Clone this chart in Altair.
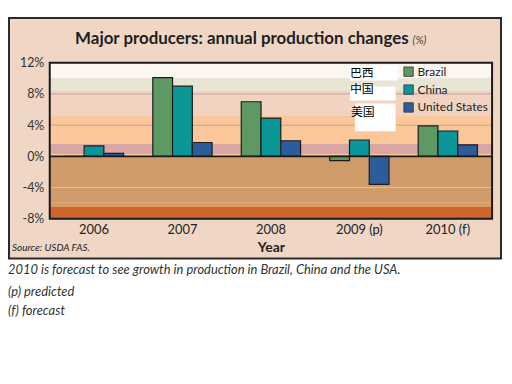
import altair as alt
import pandas as pd

years = ["2006", "2007", "2008", "2009 (p)", "2010 (f)"]
countries = ["Brazil", "China", "United States"]
brazil = [0.0, 10.1, 7.0, -0.55, 3.9]
china = [1.35, 9.0, 4.9, 2.1, 3.25]
usa = [0.38, 1.78, 2.0, -3.6, 1.48]
colors = ["#5e9862", "#0b9797", "#2d5c9b"]

band_lo = [10.0, 8.4, 5.2, 0.0, 0.3, -5.9, -6.5, -8.0]
band_hi = [12.0, 10.0, 8.4, 5.2, 1.6, 0.0, -5.9, -6.5]
band_col = ["#fbf7f0", "#e9e5d5", "#f2d3c1", "#fcc89b", "#d9a6a3", "#cf9b6b", "#dd9c5f", "#d0662f"]

grid_vals = [8, 4, -4]
grid_col = ["#b8a49c", "#c3a08c", "#f2bb90"]

y_ticks = [-8, -4, 0, 4, 8, 12]

rows = []
for i, yr in enumerate(years):
    for c, vals in zip(countries, [brazil, china, usa]):
        rows.append({"year": yr, "country": c, "value": vals[i]})
df = pd.DataFrame(rows)

bands = pd.DataFrame({"lo": band_lo, "hi": band_hi, "col": band_col})
grids = pd.DataFrame({"v": grid_vals, "col": grid_col})

W, H = 445, 157
yscale = alt.Scale(domain=[-8, 12], nice=False, zero=False)
xscale = alt.Scale(domain=years, paddingInner=0.33, paddingOuter=0.165)
y_axis = alt.Axis(values=y_ticks, labelExpr="datum.value + '%'", title=None,
                  domain=False, ticks=False, grid=False, labelFontSize=12.5,
                  labelColor="#333", labelFont="Lato", labelPadding=6, zindex=1)

one = pd.DataFrame({"a": [0]})

panel = alt.Chart(one).mark_rect(
    fill="#efd6c5", stroke="#2a2a2a", strokeWidth=2
).encode(x=alt.value(-41), x2=alt.value(454), y=alt.value(-45), y2=alt.value(197))

band_layer = alt.Chart(bands).mark_rect().encode(
    y=alt.Y("lo:Q", scale=yscale, axis=y_axis),
    y2="hi:Q",
    x=alt.value(0), x2=alt.value(W),
    color=alt.Color("col:N", scale=None),
)

grid_layer = alt.Chart(grids).mark_rule(strokeWidth=1).encode(
    y=alt.Y("v:Q", scale=yscale, axis=y_axis),
    x=alt.value(0), x2=alt.value(W),
    color=alt.Color("col:N", scale=None),
)

bars = alt.Chart(df).mark_bar(stroke="#1c1c1c", strokeWidth=1.2).encode(
    x=alt.X("year:N", scale=xscale, sort=years,
            axis=alt.Axis(title="Year", labelAngle=0, domain=False, ticks=False,
                          labelFontSize=13, labelColor="#222", labelFont="Lato",
                          labelPadding=5, titleFont="Lato", titleFontSize=14,
                          titleFontWeight="bold", titleColor="#222", titlePadding=4,
                          zindex=1)),
    xOffset=alt.XOffset("country:N", sort=countries,
                        scale=alt.Scale(paddingInner=0, paddingOuter=0)),
    y=alt.Y("value:Q", scale=yscale, axis=y_axis),
    color=alt.Color("country:N", sort=countries,
                    scale=alt.Scale(domain=countries, range=colors),
                    legend=alt.Legend(title=None, orient="none", legendX=355, legendY=3,
                                      symbolType="square", symbolSize=90,
                                      symbolStrokeColor="#333", symbolStrokeWidth=0.8,
                                      labelFont="Lato", labelFontSize=12, labelColor="#222",
                                      labelOffset=3, rowPadding=4, symbolOpacity=1)),
)

zero = alt.Chart(pd.DataFrame({"z": [0]})).mark_rule(color="#1a1a1a", strokeWidth=1.6).encode(
    y=alt.Y("z:Q", scale=yscale, axis=y_axis), x=alt.value(0), x2=alt.value(W)
)

border = alt.Chart(one).mark_rect(
    fill=None, stroke="#1a1a1a", strokeWidth=2
).encode(x=alt.value(0), x2=alt.value(W), y=alt.value(0), y2=alt.value(H))

# white overlay boxes with Chinese labels
box_x = [302, 302, 307]
box_x2 = [350, 348, 348]
box_y = [3, 24, 41]
box_y2 = [18, 38, 69]
zh_labels = ["巴西", "中国", "美国"]
zh_x = [314, 314, 315]
zh_y = [10.5, 26, 49.5]

box_layers = [
    alt.Chart(one).mark_rect(fill="white").encode(
        x=alt.value(a), x2=alt.value(b), y=alt.value(c), y2=alt.value(d))
    for a, b, c, d in zip(box_x, box_x2, box_y, box_y2)
]
zh_layers = [
    alt.Chart(one).mark_text(
        text=t, font="Noto Sans CJK SC", fontSize=12, color="#000", align="center", baseline="middle"
    ).encode(x=alt.value(xx), y=alt.value(yy))
    for t, xx, yy in zip(zh_labels, zh_x, zh_y)
]

title_main = alt.Chart(one).mark_text(
    text="Major producers: annual production changes", font="Lato", fontSize=17,
    fontWeight="bold", color="#1e1e1e", align="right", baseline="alphabetic"
).encode(x=alt.value(361), y=alt.value(-19))
title_pct = alt.Chart(one).mark_text(
    text="(%)", font="Lato", fontSize=11, fontStyle="italic", color="#444",
    align="left", baseline="alphabetic"
).encode(x=alt.value(365), y=alt.value(-19))

source = alt.Chart(one).mark_text(
    text="Source: USDA FAS.", font="Lato", fontSize=10, fontStyle="italic", color="#222",
    align="left", baseline="middle"
).encode(x=alt.value(-38), y=alt.value(186))

cap_lines = ["2010 is forecast to see growth in production in Brazil, China and the USA.",
             "(p) predicted", "(f) forecast"]
cap_y = [209, 231, 250]
captions = [
    alt.Chart(one).mark_text(
        text=t, font="Lato", fontSize=13, fontStyle="italic", color="#333",
        align="left", baseline="middle"
    ).encode(x=alt.value(-42), y=alt.value(yy))
    for t, yy in zip(cap_lines, cap_y)
]

chart = alt.layer(
    panel, band_layer, grid_layer, bars, zero, border, *box_layers, *zh_layers,
    title_main, title_pct, source, *captions
).properties(
    width=W, height=H,
    autosize=alt.AutoSizeParams(type="none"),
    padding={"left": 42, "top": 54, "right": 12, "bottom": 140},
    background="white",
).configure_view(stroke=None, fill=None)

chart.save("out.html", embed_options={"renderer": "svg", "actions": False})
